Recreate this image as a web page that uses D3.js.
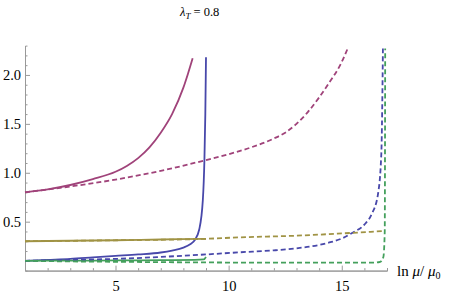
<!DOCTYPE html>
<html>
<head>
<meta charset="utf-8">
<script src="https://cdn.jsdelivr.net/npm/d3@7"></script>
<style>
  body { margin: 0; background: #fff; }
  svg { display: block; }
  svg text { font-family: "Liberation Serif", "Times New Roman", Times, serif; fill: #000; }
</style>
</head>
<body>
<div id="chart"></div>
<script>
var svgWidth = 457;
var svgHeight = 296;

// axis ticks
var xMajorTicks = [5, 10, 15];
var xMinorTicks = [2, 3, 4, 6, 7, 8, 9, 11, 12, 13, 14, 16, 17];
var yMajorTicks = [0.5, 1.0, 1.5, 2.0];
var yMinorTicks = [0.1, 0.2, 0.3, 0.4, 0.6, 0.7, 0.8, 0.9, 1.1, 1.2, 1.3, 1.4,
                   1.6, 1.7, 1.8, 1.9, 2.1, 2.2];

// solid curves
var blueSolidX = [1, 2, 3, 4, 5, 6, 7, 7.5, 8, 8.3, 8.5, 8.7, 8.86, 8.93, 8.97, 9.0];
var blueSolidY = [0.10, 0.11, 0.12, 0.135, 0.15, 0.165, 0.185, 0.205, 0.235, 0.27, 0.31, 0.42, 0.72, 1.13, 1.6, 2.18];

var magentaSolidX = [1, 2, 3, 4, 5, 5.5, 6, 6.5, 7, 7.5, 8, 8.2, 8.41];
var magentaSolidY = [0.80, 0.83, 0.875, 0.935, 1.01, 1.07, 1.15, 1.26, 1.41, 1.60, 1.87, 2.01, 2.17];

var goldSolidX = [1, 3, 5, 7, 9];
var goldSolidY = [0.30, 0.305, 0.31, 0.318, 0.325];

var greenSolidX = [1, 3, 5, 7, 8.5, 8.9, 9.0];
var greenSolidY = [0.10, 0.102, 0.104, 0.107, 0.11, 0.115, 0.14];

// dashed curves
var blueDashX = [1, 3, 5, 7, 9, 10.5, 12, 13, 14, 14.5, 15, 15.5, 16, 16.33, 16.6, 16.75, 16.82];
var blueDashY = [0.10, 0.11, 0.12, 0.14, 0.165, 0.187, 0.207, 0.228, 0.262, 0.29, 0.328, 0.39, 0.47, 0.58, 0.78, 1.2, 2.27];

var magentaDashX = [1, 3, 5, 7, 9, 10, 11, 12, 12.5, 13, 13.5, 14, 14.5, 14.93, 15.28];
var magentaDashY = [0.80, 0.86, 0.93, 1.02, 1.13, 1.19, 1.26, 1.35, 1.41, 1.50, 1.62, 1.77, 1.94, 2.10, 2.28];

var goldDashX = [1, 5, 9, 10.5, 13, 15, 16.9];
var goldDashY = [0.30, 0.31, 0.325, 0.34, 0.357, 0.38, 0.405];

var greenDashX = [1, 3, 5, 8, 12, 16.4, 16.7, 16.84, 16.9, 16.92];
var greenDashY = [0.10, 0.094, 0.09, 0.085, 0.081, 0.081, 0.09, 0.14, 0.4, 2.27];

var margin = { top: 45.6, right: 70, bottom: 25.4, left: 25 };
var width = svgWidth - margin.left - margin.right;
var height = svgHeight - margin.top - margin.bottom;

var serif = "'Liberation Serif', 'Times New Roman', Times, serif";

var svg = d3.select("#chart")
  .append("svg")
  .attr("width", svgWidth)
  .attr("height", svgHeight);

var chartGroup = svg.append("g")
  .attr("transform", `translate(${margin.left}, ${margin.top})`);

var xScale = d3.scaleLinear().domain([1, 17]).range([0, width]);
var yScale = d3.scaleLinear().domain([0, 2.3]).range([height, 0]);

// x axis: minor ticks, then major ticks with labels
chartGroup.append("g")
  .attr("transform", `translate(0, ${height})`)
  .call(d3.axisBottom(xScale).tickValues(xMinorTicks).tickSize(-2.5).tickFormat(""));
var xMajor = chartGroup.append("g")
  .attr("transform", `translate(0, ${height})`)
  .call(d3.axisBottom(xScale).tickValues(xMajorTicks).tickSize(-5).tickSizeOuter(0).tickPadding(16)
    .tickFormat(d3.format("d")));

// y axis
chartGroup.append("g")
  .call(d3.axisLeft(yScale).tickValues(yMinorTicks).tickSize(-2.5).tickFormat(""));
chartGroup.append("g")
  .call(d3.axisLeft(yScale).tickValues(yMajorTicks).tickSize(-5).tickSizeOuter(0).tickPadding(4)
    .tickFormat(d3.format(".1f")));

chartGroup.selectAll("g").attr("font-family", serif);
chartGroup.selectAll(".domain").attr("stroke", "#999").attr("stroke-width", 1);
chartGroup.selectAll(".tick line").attr("stroke", "#999");
chartGroup.selectAll(".tick text")
  .style("font-family", serif)
  .style("font-size", "14.5px")
  .attr("fill", "#000");
xMajor.selectAll(".tick text").attr("dy", "0.3em");

// curves
var line = d3.line()
  .x(d => xScale(d[0]))
  .y(d => yScale(d[1]))
  .curve(d3.curveMonotoneX);

function pairs(xs, ys) {
  return xs.map((x, i) => [x, ys[i]]);
}

var curves = [
  { x: blueSolidX, y: blueSolidY, color: "#4848aa", dash: null },
  { x: magentaSolidX, y: magentaSolidY, color: "#a0437a", dash: null },
  { x: goldSolidX, y: goldSolidY, color: "#a09344", dash: null },
  { x: greenSolidX, y: greenSolidY, color: "#44a05c", dash: null },
  { x: blueDashX, y: blueDashY, color: "#4848aa", dash: "5,3" },
  { x: magentaDashX, y: magentaDashY, color: "#a0437a", dash: "5,3" },
  { x: goldDashX, y: goldDashY, color: "#a09344", dash: "5,3" },
  { x: greenDashX, y: greenDashY, color: "#44a05c", dash: "5,3" }
];

chartGroup.selectAll(".curve")
  .data(curves)
  .enter()
  .append("path")
  .attr("class", "curve")
  .attr("fill", "none")
  .attr("stroke", d => d.color)
  .attr("stroke-width", 1.8)
  .attr("stroke-dasharray", d => d.dash)
  .attr("d", d => line(pairs(d.x, d.y)));

// axis label
var xLabel = svg.append("text")
  .attr("x", 397)
  .attr("y", 276)
  .style("font-family", serif)
  .style("font-size", "15px");
xLabel.append("tspan").text("ln  ");
xLabel.append("tspan").attr("font-style", "italic").text("\u03bc");
xLabel.append("tspan").text("/ ");
xLabel.append("tspan").attr("font-style", "italic").text("\u03bc");
xLabel.append("tspan").attr("dy", 3).style("font-size", "10px").text("0");

// title
var title = svg.append("text")
  .attr("x", 180)
  .attr("y", 16)
  .style("font-family", serif)
  .style("font-size", "12.5px");
title.append("tspan").attr("font-style", "italic").text("\u03bb");
title.append("tspan").attr("font-style", "italic").attr("dy", 3).style("font-size", "9px").text("T");
title.append("tspan").attr("dy", -3).text("  =  0.8");
</script>
</body>
</html>
